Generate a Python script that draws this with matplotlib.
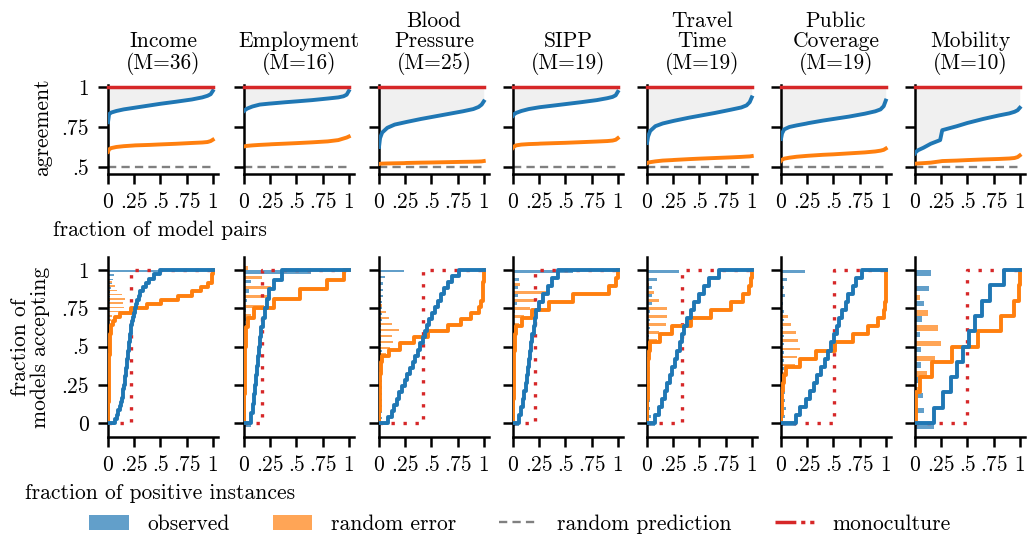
import matplotlib
matplotlib.use("Agg")
import matplotlib.pyplot as plt
from matplotlib.lines import Line2D
from matplotlib.patches import Patch
import numpy as np

FS = 15.5
plt.rcParams.update({
    "font.family": "serif",
    "font.serif": ["cmr10"],
    "mathtext.fontset": "cm",
    "axes.formatter.use_mathtext": True,
    "font.size": FS,
})

BLUE = "#1f77b4"
ORANGE = "#ff7f0e"
RED = "#d62728"
GRAY = "#808080"

DATASETS = ["Income", "Employment", "Blood\nPressure", "SIPP",
            "Travel\nTime", "Public\nCoverage", "Mobility"]
N_MODELS = [36, 16, 25, 19, 19, 19, 10]

# agreement of model pairs, sorted, sampled at these fractions of pairs
PAIR_FRAC = [0, 0.01, 0.03, 0.08, 0.15, 0.24, 0.26, 0.4, 0.5, 0.65, 0.8, 0.9, 0.95, 0.98, 1.0]
AGREE_OBSERVED = [
    [0.78, 0.83, 0.84, 0.85, 0.86, 0.869, 0.871, 0.885, 0.895, 0.908, 0.922, 0.935, 0.945, 0.955, 0.975],
    [0.85, 0.856, 0.865, 0.878, 0.89, 0.896, 0.897, 0.905, 0.91, 0.918, 0.928, 0.935, 0.942, 0.952, 0.975],
    [0.625, 0.68, 0.715, 0.745, 0.765, 0.778, 0.781, 0.80, 0.812, 0.83, 0.848, 0.862, 0.875, 0.89, 0.91],
    [0.82, 0.83, 0.838, 0.85, 0.862, 0.872, 0.874, 0.885, 0.893, 0.905, 0.918, 0.93, 0.938, 0.948, 0.97],
    [0.65, 0.69, 0.725, 0.755, 0.772, 0.786, 0.789, 0.808, 0.82, 0.838, 0.858, 0.872, 0.885, 0.905, 0.935],
    [0.675, 0.71, 0.735, 0.75, 0.76, 0.771, 0.774, 0.79, 0.80, 0.815, 0.833, 0.848, 0.86, 0.88, 0.915],
    [0.585, 0.595, 0.605, 0.62, 0.645, 0.668, 0.73, 0.755, 0.775, 0.80, 0.822, 0.835, 0.845, 0.855, 0.87],
]
AGREE_RANDOM = [
    [0.595, 0.61, 0.618, 0.625, 0.63, 0.634, 0.635, 0.638, 0.641, 0.645, 0.65, 0.653, 0.656, 0.662, 0.67],
    [0.628, 0.63, 0.632, 0.635, 0.638, 0.641, 0.642, 0.646, 0.649, 0.654, 0.66, 0.668, 0.678, 0.684, 0.69],
    [0.518, 0.52, 0.521, 0.522, 0.523, 0.524, 0.525, 0.527, 0.528, 0.53, 0.532, 0.533, 0.534, 0.535, 0.537],
    [0.62, 0.628, 0.635, 0.64, 0.643, 0.645, 0.646, 0.649, 0.651, 0.655, 0.659, 0.662, 0.665, 0.67, 0.68],
    [0.523, 0.527, 0.53, 0.535, 0.54, 0.543, 0.544, 0.549, 0.552, 0.556, 0.56, 0.563, 0.565, 0.566, 0.568],
    [0.538, 0.545, 0.552, 0.558, 0.564, 0.569, 0.57, 0.576, 0.579, 0.585, 0.591, 0.597, 0.602, 0.607, 0.615],
    [0.52, 0.521, 0.522, 0.524, 0.527, 0.535, 0.537, 0.54, 0.543, 0.547, 0.55, 0.553, 0.556, 0.562, 0.572],
]

# cumulative fraction of instances accepted by at most k of the M models
CUM_OBSERVED = [
    [0.065, 0.085, 0.10, 0.112, 0.123, 0.132, 0.14, 0.147, 0.153, 0.159, 0.164, 0.169, 0.174,
     0.179, 0.184, 0.189, 0.193, 0.197, 0.201, 0.206, 0.211, 0.217, 0.223, 0.23, 0.237, 0.245,
     0.254, 0.265, 0.278, 0.293, 0.31, 0.333, 0.36, 0.395, 0.44, 0.497, 1.0],
    [0.064, 0.083, 0.096, 0.108, 0.118, 0.128, 0.138, 0.147, 0.157, 0.167, 0.18, 0.196, 0.215,
     0.24, 0.29, 0.36, 1.0],
    [0.09, 0.12, 0.145, 0.17, 0.195, 0.22, 0.245, 0.27, 0.295, 0.32, 0.345, 0.37, 0.395, 0.418,
     0.44, 0.46, 0.48, 0.505, 0.53, 0.56, 0.59, 0.625, 0.66, 0.70, 0.76, 1.0],
    [0.06, 0.08, 0.095, 0.108, 0.12, 0.132, 0.143, 0.155, 0.165, 0.175, 0.186, 0.197, 0.209,
     0.222, 0.245, 0.285, 0.33, 0.375, 0.43, 1.0],
    [0.08, 0.119, 0.144, 0.17, 0.192, 0.218, 0.24, 0.266, 0.288, 0.311, 0.33, 0.353, 0.385,
     0.417, 0.449, 0.497, 0.545, 0.593, 0.69, 1.0],
    [0.147, 0.186, 0.234, 0.276, 0.314, 0.346, 0.385, 0.417, 0.449, 0.481, 0.506, 0.532, 0.554,
     0.587, 0.619, 0.641, 0.683, 0.715, 0.77, 1.0],
    [0.18, 0.27, 0.345, 0.40, 0.46, 0.52, 0.57, 0.635, 0.72, 0.85, 1.0],
]
CUM_RANDOM = [
    [0.001, 0.002, 0.002, 0.003, 0.004, 0.005, 0.005, 0.006, 0.007, 0.008, 0.009, 0.010, 0.011,
     0.012, 0.013, 0.014, 0.015, 0.016, 0.017, 0.019, 0.022, 0.025, 0.03, 0.045, 0.07, 0.11,
     0.22, 0.37, 0.51, 0.67, 0.80, 0.89, 0.955, 0.99, 0.997, 1.0, 1.0],
    [0.002, 0.003, 0.004, 0.005, 0.007, 0.008, 0.01, 0.012, 0.015, 0.02, 0.035, 0.10, 0.29,
     0.535, 0.79, 0.958, 1.0],
    [0.002, 0.004, 0.005, 0.007, 0.008, 0.01, 0.012, 0.014, 0.016, 0.02, 0.03, 0.096, 0.2,
     0.337, 0.465, 0.66, 0.78, 0.88, 0.95, 0.975, 0.99, 0.995, 0.997, 0.999, 1.0, 1.0],
    [0.002, 0.003, 0.004, 0.005, 0.006, 0.007, 0.008, 0.01, 0.012, 0.015, 0.02, 0.026, 0.083,
     0.186, 0.346, 0.57, 0.917, 0.987, 1.0, 1.0],
    [0.002, 0.003, 0.004, 0.005, 0.006, 0.008, 0.01, 0.012, 0.015, 0.03, 0.128, 0.24, 0.417,
     0.61, 0.80, 0.913, 0.978, 0.995, 1.0, 1.0],
    [0.003, 0.006, 0.01, 0.014, 0.018, 0.025, 0.05, 0.186, 0.337, 0.52, 0.683, 0.827, 0.923,
     0.987, 0.997, 1.0, 1.0, 1.0, 1.0, 1.0],
    [0.005, 0.012, 0.048, 0.16, 0.355, 0.60, 0.82, 0.945, 0.99, 1.0, 1.0],
]
# share of positive predictions under a single shared model
MONO_RATE = [0.215, 0.173, 0.423, 0.208, 0.33, 0.506, 0.5]

FRAC_TICKS = [0, 0.25, 0.5, 0.75, 1]
FRAC_LABELS = ["0", ".25", ".5", ".75", "1"]
AGREE_TICKS = [0.5, 0.75, 1]
AGREE_LABELS = [".5", ".75", "1"]

W, H = 1029, 535
LEFTS = [108, 244, 379, 513, 647, 781, 915]
AX_W = 110


def style_axes(ax):
    for side in ("top", "right"):
        ax.spines[side].set_visible(False)
    for side in ("left", "bottom"):
        ax.spines[side].set_linewidth(1.8)
    ax.tick_params(direction="out", length=7, width=1.8, labelsize=FS, pad=6.5)
    ax.set_xlim(0, 1.05)
    ax.set_xticks(FRAC_TICKS)
    ax.set_xticklabels(FRAC_LABELS)


fig = plt.figure(figsize=(W / 100, H / 100), dpi=100)

for i, name in enumerate(DATASETS):
    m = N_MODELS[i]
    left = LEFTS[i] / W

    # agreement between model pairs
    ax = fig.add_axes([left, 1 - 174 / H, AX_W / W, 89 / H])
    style_axes(ax)
    obs = np.array(AGREE_OBSERVED[i])
    ax.fill_between(PAIR_FRAC, obs, 1, color="#f0f0f0", lw=0, zorder=1)
    ax.plot([0, 1], [0.5, 0.5], color=GRAY, ls="--", lw=1.7, dashes=(3.5, 2.2), zorder=2)
    ax.plot(PAIR_FRAC, AGREE_RANDOM[i], color=ORANGE, lw=2.8, zorder=3)
    ax.plot(PAIR_FRAC, obs, color=BLUE, lw=2.8, zorder=4)
    ax.plot([0, 1], [1, 1], color=RED, lw=2.5, zorder=5, clip_on=False)
    ax.set_ylim(0.456, 1.0125)
    ax.set_yticks(AGREE_TICKS)
    ax.set_yticklabels(AGREE_LABELS if i == 0 else [])
    ax.set_title(f"{name}\n(M={m})", fontsize=FS, pad=11.5, linespacing=1.05)

    # fraction of models accepting each instance
    ax = fig.add_axes([left, 1 - 437 / H, AX_W / W, 180 / H])
    style_axes(ax)
    levels = np.arange(m + 1) / m
    cum_obs = np.array(CUM_OBSERVED[i])
    cum_rnd = np.array(CUM_RANDOM[i])
    hist_obs = np.diff(np.r_[0, cum_obs])
    hist_rnd = np.diff(np.r_[0, cum_rnd])
    ax.barh(levels - 0.2 / m, hist_obs, height=0.35 / m, color=BLUE, alpha=0.7, lw=0, zorder=1)
    ax.barh(levels + 0.2 / m, hist_rnd, height=0.35 / m, color=ORANGE, alpha=0.7, lw=0, zorder=1)
    p = MONO_RATE[i]
    ax.plot([0, p, p, 1], [0, 0, 1, 1], color=RED, lw=2.4, ls=(0, (1, 2.6)), zorder=2)
    ax.step(np.r_[0, cum_rnd], np.r_[levels, 1], where="post", color=ORANGE, lw=2.8, zorder=3)
    ax.step(np.r_[0, cum_obs], np.r_[levels, 1], where="post", color=BLUE, lw=2.8, zorder=4)
    ax.set_ylim(-0.0915, 1.085)
    ax.set_yticks(FRAC_TICKS)
    ax.set_yticklabels(FRAC_LABELS if i == 0 else [])

fig.text(42 / W, 1 - 127 / H, "agreement", rotation=90, ha="center", va="center", fontsize=FS)
fig.text(30 / W, 1 - 347 / H, "fraction of\nmodels accepting", rotation=90,
         ha="center", va="center", multialignment="center", fontsize=FS, linespacing=1.0)
fig.text(53 / W, 1 - 230 / H, "fraction of model pairs", ha="left", va="center", fontsize=FS)
fig.text(25 / W, 1 - 493 / H, "fraction of positive instances", ha="left", va="center", fontsize=FS)

handles = [
    Patch(color=BLUE, alpha=0.7, lw=0),
    Patch(color=ORANGE, alpha=0.7, lw=0),
    Line2D([], [], color=GRAY, lw=1.7, ls="--", dashes=(3.5, 2.2)),
    Line2D([], [], color=RED, lw=2.5, ls=(0, (6, 1.4, 1.2, 1.4, 1.2, 1.4))),
]
labels = ["observed", "random error", "random prediction", "monoculture"]
fig.legend(handles, labels, loc="center", bbox_to_anchor=(520 / W, 1 - 524 / H), ncol=4,
           frameon=False, fontsize=FS, handlelength=1.85, handleheight=0.7,
           handletextpad=0.85, columnspacing=2.0, borderpad=0)

fig.savefig("out.png", dpi=100, facecolor="white")
